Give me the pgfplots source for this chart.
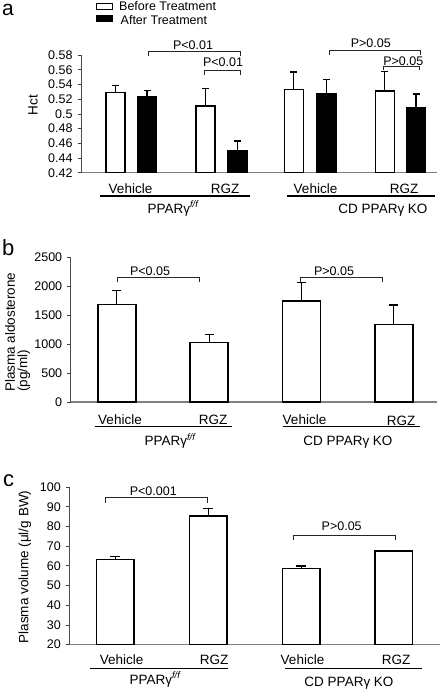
\documentclass[border=0pt]{standalone}
\usepackage{fontspec}
\setmainfont{Liberation Sans}
\usepackage{pgfplots}
\pgfplotsset{compat=1.18}
\pgfplotsset{
  panel/.style={
    scale only axis, anchor=south west,
    axis x line*=bottom, axis y line*=left,
    xtick=\empty, tick align=outside, major tick length=3.5pt,
    ytick style={black!75, line width=0.6pt},
    x axis line style={gray, line width=1.2pt, -},
    y axis line style={black!70, line width=0.8pt, -},
    tick label style={font=\fontsize{12.5}{14}\selectfont},
    yticklabel style={xshift=-1.5pt},
    /pgf/number format/assume math mode=true,
    /pgf/number format/1000 sep={},
    /pgf/number format/fixed,
    scaled y ticks=false,
  },
  errs/.style={
    error bars/y dir=plus, error bars/y explicit,
    error bars/error mark=-,
    error bars/error bar style={line width=1.3pt, black},
    error bars/error mark options={rotate=90, line width=1.3pt, mark size=3.5pt, black}},
  barw/.style={ybar, bar shift=0pt, draw=black, fill=white, line width=1.5pt, errs},
  barb/.style={ybar, bar shift=0pt, draw=black, fill=black, line width=1.5pt, errs},
}
\begin{document}
\begin{tikzpicture}
\useasboundingbox (0pt,0pt) rectangle (440pt,-694pt);

% ---------- panel a ----------
\begin{axis}[panel, at={(81pt,-172.7pt)}, width=356pt, height=117.7pt,
  xmin=81, xmax=437, ymin=0.42, ymax=0.58,
  ytick={0.42,0.44,0.46,0.48,0.5,0.52,0.54,0.56,0.58},
  /pgf/number format/precision=2]
\addplot[barw, bar width=19] coordinates {
  (115.5,0.529) +- (0,0.010)
  (205.5,0.511) +- (0,0.023)
  (293.8,0.533) +- (0,0.024)
  (384.8,0.531) +- (0,0.027)};
\addplot[barb, bar width=19] coordinates {
  (147.0,0.523) +- (0,0.009)
  (237.5,0.450) +- (0,0.013)
  (326.5,0.527) +- (0,0.020)
  (416.0,0.508) +- (0,0.019)};
\end{axis}

% ---------- panel b ----------
\begin{axis}[panel, at={(70.7pt,-402pt)}, width=366.3pt, height=145pt,
  xmin=70.7, xmax=437, ymin=0, ymax=2500,
  ytick={0,500,1000,1500,2000,2500}]
\addplot[barw, bar width=38, errs, error bars/error mark options={rotate=90, line width=1.3pt, mark size=4.5pt, black}] coordinates {
  (116.8,1684) +- (0,235)
  (209.2,1029) +- (0,131)
  (301.7,1741) +- (0,316)
  (393.8,1340) +- (0,332)};
\end{axis}

% ---------- panel c ----------
\begin{axis}[panel, at={(69.3pt,-644.5pt)}, width=370.7pt, height=157.5pt,
  xmin=69.3, xmax=440, ymin=20, ymax=100,
  ytick={20,30,40,50,60,70,80,90,100}]
\addplot[barw, bar width=37.5, errs, error bars/error mark options={rotate=90, line width=1.3pt, mark size=5pt, black}] coordinates {
  (115.3,63.3) +- (0,1.5)
  (208.3,85.4) +- (0,3.6)
  (301.3,58.7) +- (0,1.2)
  (393.7,67.5) +- (0,0.1)};
\end{axis}

% ---------- annotations (pixel coordinates, y downward) ----------
\begin{scope}[x=1pt, y=-1pt, every node/.style={inner sep=0pt},
  br/.style={line width=0.9pt, black!85},
  ul/.style={line width=1.3pt, black},
  pl/.style={anchor=base, font=\fontsize{12.5}{14}\selectfont},
  xl/.style={anchor=base, font=\fontsize{13.5}{15}\selectfont}]
% panel letters
\node[anchor=base west, font=\fontsize{21}{22}\selectfont] at (2,15) {a};
\node[anchor=base west, font=\fontsize{22}{24}\selectfont] at (2,255) {b};
\node[anchor=base west, font=\fontsize{22}{24}\selectfont] at (3,486.7) {c};

% legend
\draw[line width=1pt, fill=white] (96,3.5) rectangle (112,9.5);
\draw[line width=1pt, fill=black] (96,15) rectangle (112,21);
\node[anchor=base west, font=\fontsize{12.5}{14}\selectfont] at (119,10) {Before Treatment};
\node[anchor=base west, font=\fontsize{12.5}{14}\selectfont] at (120.5,24.5) {After Treatment};

% y labels
\node[rotate=90, font=\fontsize{13.5}{15}\selectfont] at (33,105) {Hct};
\node[rotate=90, anchor=west, font=\fontsize{13.5}{15}\selectfont] at (10,392) {Plasma aldosterone};
\node[rotate=90, anchor=west, font=\fontsize{13.5}{15}\selectfont] at (24,392) {(pg/ml)};
\node[rotate=90, font=\fontsize{13.5}{15}\selectfont] at (25,567) {Plasma volume (μl/g BW)};

% brackets panel a
\draw[br] (148,55.5)--(148,51.7)--(240,51.7)--(240,55.5);
\node[pl] at (193,49.3) {P<0.01};
\draw[br] (204,74.5)--(204,70.3)--(240,70.3)--(240,74.5);
\node[pl] at (223,66.7) {P<0.01};
\draw[br] (329,54.5)--(329,50.7)--(420,50.7)--(420,54.5);
\node[pl] at (370.8,47.3) {P>0.05};
\draw[br] (383,70)--(383,66)--(419,66)--(419,70);
\node[pl] at (403.3,65) {P>0.05};

% brackets panel b
\draw[br] (117.3,282)--(117.3,277.3)--(199,277.3)--(199,282);
\node[pl] at (150,275) {P<0.05};
\draw[br] (300,282)--(300,277.3)--(382,277.3)--(382,282);
\node[pl] at (334,275) {P>0.05};

% brackets panel c
\draw[br] (105,503)--(105,497.3)--(207,497.3)--(207,503);
\node[pl] at (153.3,495.7) {P<0.001};
\draw[br] (293,540)--(293,535)--(395,535)--(395,540);
\node[pl] at (341.7,530.7) {P>0.05};

% group labels panel a
\node[xl] at (130.5,193.3) {Vehicle};
\node[xl] at (225,193.3) {RGZ};
\draw[ul] (100,196)--(250,196);
\node[xl] at (173,213) {PPARγ\textsuperscript{\itshape f/f}};
\node[xl] at (315.5,193.3) {Vehicle};
\node[xl] at (404,193.3) {RGZ};
\draw[ul] (287,196)--(435,196);
\node[xl] at (383,213) {CD PPARγ KO};

% group labels panel b
\node[xl] at (120,424.3) {Vehicle};
\node[xl] at (213,424.7) {RGZ};
\draw[ul] (95,426.7)--(232,426.7);
\node[xl] at (170,445.5) {PPARγ\textsuperscript{\itshape f/f}};
\node[xl] at (304.5,424.3) {Vehicle};
\node[xl] at (401,425.5) {RGZ};
\draw[ul] (283,426.7)--(420,426.7);
\node[xl] at (348,445) {CD PPARγ KO};

% group labels panel c
\node[xl] at (121.7,664.3) {Vehicle};
\node[xl] at (214,664.3) {RGZ};
\draw[ul] (90,668.3)--(228,668.3);
\node[xl] at (155,684) {PPARγ\textsuperscript{\itshape f/f}};
\node[xl] at (302.5,664.3) {Vehicle};
\node[xl] at (396,664.3) {RGZ};
\draw[ul] (285,668.3)--(421.7,668.3);
\node[xl] at (349,686) {CD PPARγ KO};
\end{scope}
\end{tikzpicture}
\end{document}
